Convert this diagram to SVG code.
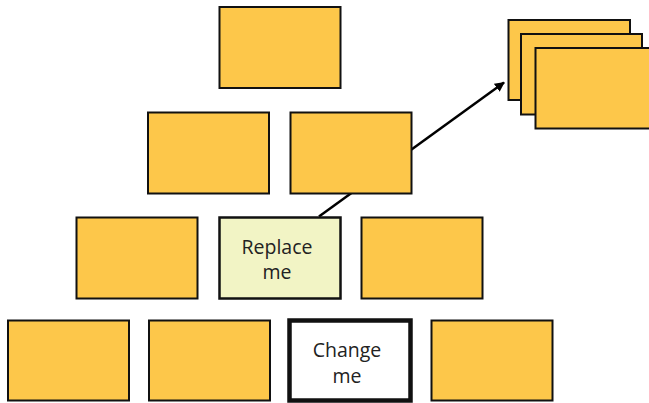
<svg xmlns="http://www.w3.org/2000/svg" width="649" height="403" viewBox="0 0 649 403">
<defs>
<style>
.b{fill:#FDC74A;stroke:#111;stroke-width:2}
.r{fill:#F2F4C5;stroke:#111;stroke-width:2.5}
.c{fill:#fff;stroke:#111;stroke-width:4.5}
.t{font-family:"Open Sans","Noto Sans",sans-serif;font-size:19.5px;fill:#222;text-anchor:middle}
.conn{stroke:#000;stroke-width:2.5;fill:none}
</style>
<marker id="ah" viewBox="0 0 10 10" refX="9" refY="5" markerWidth="4" markerHeight="4" orient="auto" markerUnits="strokeWidth">
<path d="M0,0 L10,5 L0,10 z" fill="#000"/>
</marker>
</defs>
<rect width="649" height="403" fill="#fff"/>
<g id="connectors">
<line class="conn" x1="319" y1="216.5" x2="504" y2="82.5" marker-end="url(#ah)"/>
</g>
<g id="n-top"><rect class="b" x="219.5" y="7" width="121" height="81"/></g>
<g id="n-r2a"><rect class="b" x="148" y="112.5" width="121" height="81"/></g>
<g id="n-r2b"><rect class="b" x="290.5" y="112.5" width="121" height="81"/></g>
<g id="n-r3a"><rect class="b" x="76.5" y="217.5" width="121" height="81"/></g>
<g id="n-replace"><rect class="r" x="219.5" y="217.5" width="121" height="81"/>
<text class="t" x="277" y="254">Replace</text><text class="t" x="277" y="278.5">me</text></g>
<g id="n-r3c"><rect class="b" x="361.5" y="217.5" width="121" height="81"/></g>
<g id="n-r4a"><rect class="b" x="8" y="320.5" width="121" height="80"/></g>
<g id="n-r4b"><rect class="b" x="149" y="320.5" width="121" height="80"/></g>
<g id="n-change"><rect class="c" x="289.5" y="320.5" width="121" height="80"/>
<text class="t" x="347" y="357">Change</text><text class="t" x="347" y="382.5">me</text></g>
<g id="n-r4d"><rect class="b" x="431.5" y="320.5" width="121" height="80"/></g>
<g id="n-stack">
<rect class="b" x="508.5" y="20" width="121.5" height="80"/>
<rect class="b" x="521" y="34" width="121" height="80.5"/>
<rect class="b" x="535.5" y="48" width="121" height="80.5"/>
</g>
</svg>
